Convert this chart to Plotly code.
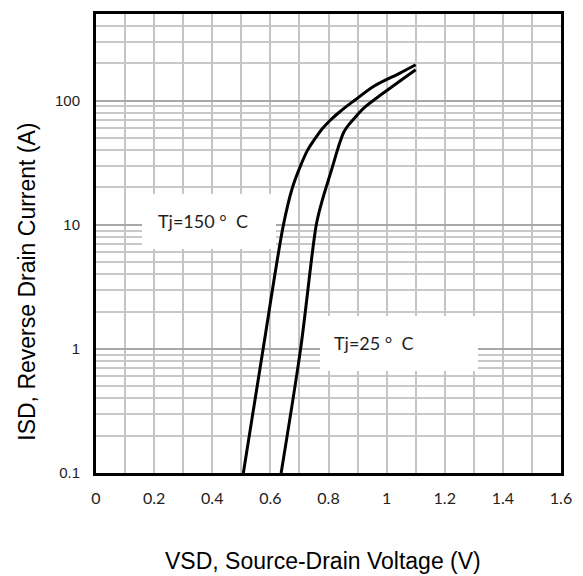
import plotly.graph_objects as go

# Data
vsd_150 = [0.507, 0.575, 0.645, 0.676, 0.704, 0.728, 0.755, 0.780, 0.807, 0.835, 0.862, 0.888, 0.956, 1.046, 1.100]
isd_150 = [0.1, 1.0, 10.0, 20.0, 30.0, 40.0, 50.0, 60.0, 70.0, 80.0, 90.0, 100.0, 131.0, 167.0, 195.0]

vsd_25 = [0.637, 0.704, 0.758, 0.777, 0.811, 0.839, 0.853, 0.872, 0.895, 0.923, 0.990, 1.100]
isd_25 = [0.1, 1.0, 10.0, 15.3, 28.0, 46.0, 56.0, 65.0, 75.0, 88.0, 116.0, 178.0]

x_ticks = [0, 0.2, 0.4, 0.6, 0.8, 1.0, 1.2, 1.4, 1.6]
x_ticktext = ["0", "0.2", "0.4", "0.6", "0.8", "1", "1.2", "1.4", "1.6"]
y_ticks = [0.1, 1, 10, 100]
y_ticktext = ["0.1", "1", "10", "100"]

label_150 = "Tj=150 \u00b0  C"
label_25 = "Tj=25 \u00b0  C"

# minor log gridlines (2..9 per decade)
minor_y = [m * d for d in [0.1, 1, 10, 100] for m in range(2, 10) if m * d <= 500]

fig = go.Figure()
line_style = dict(color="black", width=3, shape="spline", smoothing=0.9)
fig.add_trace(go.Scatter(x=vsd_150, y=isd_150, mode="lines", line=line_style,
                         showlegend=False, hoverinfo="skip"))
fig.add_trace(go.Scatter(x=vsd_25, y=isd_25, mode="lines", line=line_style,
                         showlegend=False, hoverinfo="skip"))

# white label boxes that cover the grid (blank annotations with a background)
W, H = 475.0, 462.0  # plot area size in px
for (x0, x1, y0, y1) in [(143, 277, 193, 248), (325, 483, 315, 370)]:
    fig.add_annotation(text=" ", xref="paper", yref="paper",
                       x=(x0 - 96) / W, y=(473 - y1) / H,
                       xanchor="left", yanchor="bottom",
                       width=x1 - x0, height=y1 - y0, bgcolor="white",
                       borderpad=0, borderwidth=0, showarrow=False)

ann_font = dict(family="Lato, 'Open Sans', sans-serif", size=18, color="#1f1f1f")
fig.add_annotation(text=label_150, xref="paper", yref="paper",
                   x=(157 - 96) / W, y=(473 - 219) / H, xanchor="left", yanchor="middle",
                   showarrow=False, font=ann_font)
fig.add_annotation(text=label_25, xref="paper", yref="paper",
                   x=(337 - 96) / W, y=(473 - 342) / H, xanchor="left", yanchor="middle",
                   showarrow=False, font=ann_font)

title_font = dict(family="Liberation Sans, Arial, sans-serif", size=23, color="black")
fig.add_annotation(text="VSD, Source-Drain Voltage (V)", xref="paper", yref="paper",
                   x=(328 - 96) / W, y=-(562 - 473) / H, showarrow=False,
                   font=title_font, xanchor="center", yanchor="middle")
fig.add_annotation(text="ISD, Reverse Drain Current (A)", xref="paper", yref="paper",
                   x=-(96 - 26) / W, y=(473 - 280) / H, showarrow=False,
                   font=title_font, textangle=-90, xanchor="center", yanchor="middle")

fig.update_xaxes(
    range=[0, 1.6], tickvals=x_ticks, ticktext=x_ticktext,
    showgrid=True, gridcolor="#c4c4c4", gridwidth=1.5,
    minor=dict(dtick=0.1, tick0=0, showgrid=True, gridcolor="#c4c4c4", gridwidth=1.5),
    showline=True, mirror=True, linecolor="black", linewidth=3,
    ticks="outside", ticklen=9, tickcolor="rgba(0,0,0,0)",
    tickfont=dict(family="Lato, 'Open Sans', sans-serif", size=16, color="#222222"),
    zeroline=False,
)
fig.update_yaxes(
    type="log", range=[-1, 2.699], tickvals=y_ticks, ticktext=y_ticktext,
    showgrid=True, gridcolor="#a8a8a8", gridwidth=1.5,
    minor=dict(tickmode="array", tickvals=minor_y, showgrid=True,
               gridcolor="#c8c8c8", gridwidth=1.5),
    showline=True, mirror=True, linecolor="black", linewidth=3,
    ticks="outside", ticklen=10, tickcolor="rgba(0,0,0,0)",
    tickfont=dict(family="Liberation Sans, Arial, sans-serif", size=15, color="#222222"),
    zeroline=False,
)

fig.update_layout(
    width=583, height=576,
    margin=dict(l=96, r=12, t=11, b=103),
    paper_bgcolor="white", plot_bgcolor="white",
    showlegend=False,
)

fig.write_html("out.html", config={"displayModeBar": False},
               post_script="document.body.style.margin='0px';")
